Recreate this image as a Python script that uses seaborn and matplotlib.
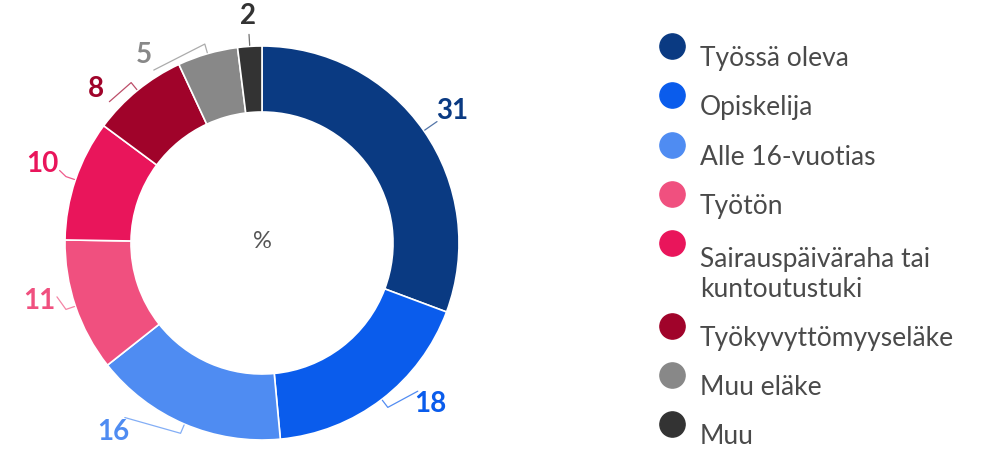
import numpy as np
import matplotlib.pyplot as plt
import seaborn as sns

categories = ["Työssä oleva", "Opiskelija", "Alle 16-vuotias", "Työtön",
              "Sairauspäiväraha tai\nkuntoutustuki", "Työkyvyttömyyseläke",
              "Muu eläke", "Muu"]
values = [31, 18, 16, 11, 10, 8, 5, 2]
colors = ["#0a3a82", "#0a5cec", "#4f8cf2", "#f0507f",
          "#e9155b", "#a0032a", "#888888", "#333333"]

sns.set_theme(style="white")
plt.rcParams["font.family"] = ["Lato", "DejaVu Sans"]

fig = plt.figure(figsize=(9.84, 4.49), dpi=100)
ax = fig.add_axes([0, 0, 1, 1])

# donut, drawn in pixel-like data coords
cx, cy, R = 262, 206, 197
wedges, _ = ax.pie(values, colors=colors, startangle=90, counterclock=False,
                   center=(cx, cy), radius=R,
                   wedgeprops=dict(width=R * 0.335, edgecolor="white", linewidth=1.2))
ax.set_xlim(0, 984)
ax.set_ylim(0, 449)
ax.set_aspect("equal")
ax.axis("off")

ax.text(cx, cy + 2, "%", ha="center", va="center", fontsize=17, color="#555555")

# value labels with short connectors
shift = [0, 9, -15, -4, -1, 8, 16, 0]
lab_r = [231, 233, 240, 230, 233, 226, 222, 227]
for w, v, c, s, lr in zip(wedges, values, colors, shift, lab_r):
    mid = np.deg2rad((w.theta1 + w.theta2) / 2)
    la = mid + np.deg2rad(s)
    p0 = (cx + (R + 1) * np.cos(mid), cy + (R + 1) * np.sin(mid))
    p1 = (cx + (R + 10) * np.cos(mid), cy + (R + 10) * np.sin(mid))
    p2 = (cx + (lr - 18) * np.cos(la), cy + (lr - 18) * np.sin(la))
    ax.plot([p0[0], p1[0], p2[0]], [p0[1], p1[1], p2[1]], color=c, lw=0.9, alpha=0.7)
    ax.text(cx + lr * np.cos(la), cy + lr * np.sin(la), str(v), ha="center", va="center",
            fontsize=20, fontweight="bold", color=c)

# legend
base = 449 - 66
for name, c in zip(categories, colors):
    two = "\n" in name
    ax.scatter(672, base + 20, s=330, color=c, zorder=3)
    ax.text(700, base - (34 if two else 0), name, ha="left", va="baseline",
            fontsize=19, color="#4a4a4a", linespacing=1.25)
    base -= 49.3 + (33 if two else 0)

fig.savefig("out.png", dpi=100)
